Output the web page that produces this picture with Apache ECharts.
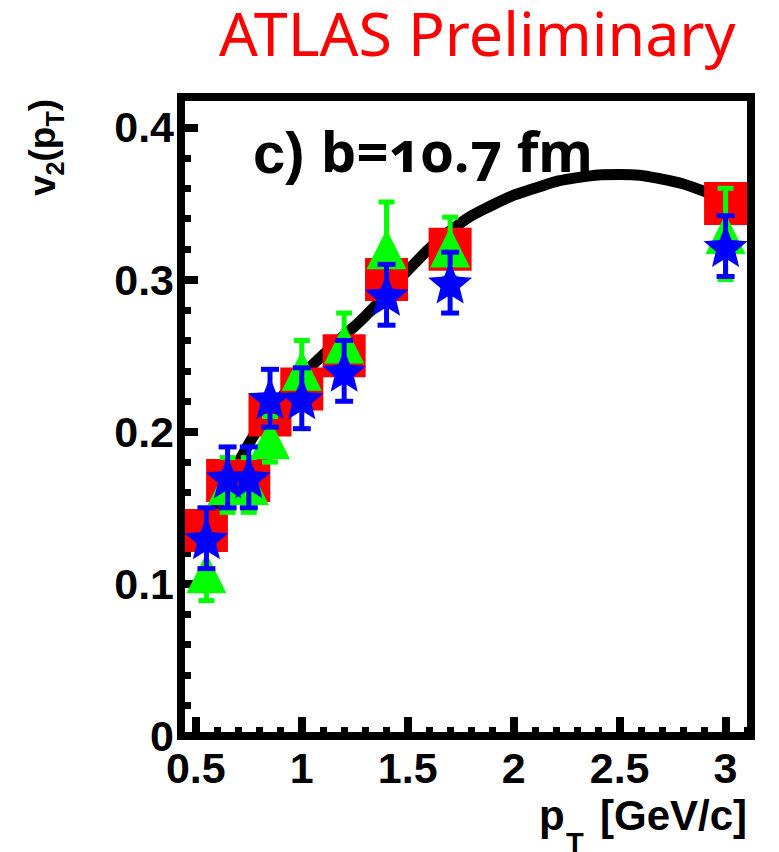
<!DOCTYPE html>
<html>
<head>
<meta charset="utf-8">
<script src="https://cdn.jsdelivr.net/npm/echarts@6.0.0/dist/echarts.min.js"></script>
<style>
html,body{margin:0;padding:0;background:#fff;}
#chart{width:779px;height:852px;}
text[style*="Noto Sans"], text[font-family*="Noto Sans"]{font-variant-numeric: oldstyle-nums !important; font-feature-settings: "onum" 1 !important;}
</style>
</head>
<body>
<div id="chart"></div>
<script>
// ---- data ----
const ptX   = [0.55, 0.65, 0.75, 0.85, 1.0, 1.2, 1.4, 1.7, 3.0];
const redV  = [0.135, 0.168, 0.168, 0.211, 0.228, 0.250, 0.300, 0.320, 0.350];
const greenV= [0.107, 0.165, 0.165, 0.195, 0.240, 0.258, 0.320, 0.321, 0.330];
const greenE= [0.018, 0.018, 0.018, 0.015, 0.020, 0.020, 0.031, 0.020, 0.030];
const blueV = [0.130, 0.170, 0.170, 0.222, 0.222, 0.240, 0.290, 0.298, 0.322];
const blueE = [0.020, 0.020, 0.020, 0.019, 0.020, 0.020, 0.020, 0.020, 0.020];
const curveX= [0.5, 0.6, 0.75, 0.9, 1.0, 1.15, 1.3, 1.5, 1.7, 1.9, 2.1, 2.3, 2.5, 2.7, 2.9, 3.0];
const curveY= [0.125, 0.151, 0.192, 0.222, 0.237, 0.257, 0.276, 0.306, 0.332, 0.349, 0.360, 0.367, 0.369, 0.366, 0.358, 0.351];
const xMajor= [0.5, 1, 1.5, 2, 2.5, 3];
const xMinor= [0.6,0.7,0.8,0.9,1.1,1.2,1.3,1.4,1.6,1.7,1.8,1.9,2.1,2.2,2.3,2.4,2.6,2.7,2.8,2.9,3.1];
const yMajor= [0, 0.1, 0.2, 0.3, 0.4];
const yMinor= [0.02,0.04,0.06,0.08,0.12,0.14,0.16,0.18,0.22,0.24,0.26,0.28,0.32,0.34,0.36,0.38];

// star marker shape
function starPath(){
  const pts=[];
  for(let i=0;i<10;i++){
    const a=(-90+i*36)*Math.PI/180, r=(i%2)?0.44:1;
    pts.push((50+50*r*Math.cos(a)).toFixed(2)+' '+(50+50*r*Math.sin(a)).toFixed(2));
  }
  return 'path://M'+pts.join(' L')+' Z';
}

function errItem(color, capW, lw){
  return function(params, api){
    const x=api.value(0), y=api.value(1), e=api.value(2);
    const t=api.coord([x,y+e]), b=api.coord([x,y-e]);
    const st={stroke:color, lineWidth:lw};
    return {type:'group', children:[
      {type:'line', shape:{x1:t[0],y1:t[1],x2:b[0],y2:b[1]}, style:st},
      {type:'line', shape:{x1:t[0]-capW/2,y1:t[1],x2:t[0]+capW/2,y2:t[1]}, style:st},
      {type:'line', shape:{x1:b[0]-capW/2,y1:b[1],x2:b[0]+capW/2,y2:b[1]}, style:st}
    ]};
  };
}

const mc=document.createElement('canvas').getContext('2d');
function tw(t,f){mc.font=f;return mc.measureText(t).width;}

const LB='"Liberation Sans", Arial, sans-serif';
const axisFont={fontFamily:LB, fontWeight:'bold', fontSize:43, color:'#000'};

// y title pieces
const yMainF='bold 37px '+LB, ySubF='bold 25px '+LB;
const yPieces=[['v',yMainF,0],['2',ySubF,9],['(',yMainF,0],['p',yMainF,0],['T',ySubF,9],[')',yMainF,0]];
let cx=0; const yChildren=[];
yPieces.forEach(p=>{
  const fs=parseFloat(p[1].match(/(\d+)px/)[1]);
  yChildren.push({type:'text', x:cx, y:p[2]-0.347*fs, style:{text:p[0], font:p[1], fill:'#000', verticalAlign:'middle', align:'left'}});
  cx+=tw(p[0],p[1]);
});

const chart=echarts.init(document.getElementById('chart'),null,{renderer:'svg'});
chart.setOption({
  animation:false,
  backgroundColor:'#fff',
  grid:{left:181, top:97, right:28, bottom:116, show:true, borderColor:'#000', borderWidth:8, outerBoundsMode:'none'},
  xAxis:[
    {type:'value', min:0.43, max:3.12, position:'bottom',
     axisLine:{show:true, lineStyle:{color:'#000', width:8}},
     axisTick:{show:true, inside:true, length:19, customValues:xMajor, lineStyle:{color:'#000', width:8}},
     axisLabel:Object.assign({customValues:xMajor, margin:10}, axisFont),
     splitLine:{show:false}},
    {type:'value', min:0.43, max:3.12, position:'bottom',
     axisLine:{show:false},
     axisTick:{show:true, inside:true, length:9, customValues:xMinor, lineStyle:{color:'#000', width:7}},
     axisLabel:{show:false}, splitLine:{show:false}}
  ],
  yAxis:[
    {type:'value', min:0, max:0.42, position:'left',
     axisLine:{show:true, lineStyle:{color:'#000', width:8}},
     axisTick:{show:true, inside:true, length:17, customValues:yMajor, lineStyle:{color:'#000', width:8}},
     axisLabel:Object.assign({customValues:yMajor, margin:7}, axisFont),
     splitLine:{show:false}},
    {type:'value', min:0, max:0.42, position:'left',
     axisLine:{show:false},
     axisTick:{show:true, inside:true, length:10, customValues:yMinor, lineStyle:{color:'#000', width:7}},
     axisLabel:{show:false}, splitLine:{show:false}}
  ],
  series:[
    {type:'line', z:1, smooth:true, symbol:'none', data:curveX.map((x,i)=>[x,curveY[i]]),
     lineStyle:{color:'#000', width:11}},
    {type:'scatter', z:2, symbol:'rect', symbolSize:[43,43], itemStyle:{color:'#ff0000', opacity:1},
     data:ptX.map((x,i)=>[x,redV[i]])},
    {type:'custom', z:3, renderItem:errItem('#00ff00',16,5), clip:false,
     data:ptX.map((x,i)=>[x,greenV[i],greenE[i]])},
    {type:'scatter', z:4, symbol:'triangle', symbolSize:[40,40], itemStyle:{color:'#00ff00', opacity:1},
     data:ptX.map((x,i)=>[x,greenV[i]])},
    {type:'custom', z:5, renderItem:errItem('#0000ff',18,5), clip:false,
     data:ptX.map((x,i)=>[x,blueV[i],blueE[i]])},
    {type:'scatter', z:6, symbol:starPath(), symbolSize:[44,42], itemStyle:{color:'#0000ff', opacity:1},
     data:ptX.map((x,i)=>[x,blueV[i]])}
  ],
  graphic:[
    {type:'text', x:219, y:32, z:10, style:{text:'ATLAS Preliminary', font:'61px "Noto Sans"', fill:'#ff0000', verticalAlign:'middle'}},
    {type:'text', x:253, y:152, z:10, style:{text:'c)', font:'bold 58px '+LB, fill:'#000', verticalAlign:'middle'}},
    {type:'text', x:321, y:150, z:10, style:{text:'b=10.7 fm', font:'bold 56px "Noto Sans"', fill:'#000', verticalAlign:'middle'}},
    {type:'group', x:55, y:196, rotation:Math.PI/2, children:yChildren},
    {type:'text', x:539, y:830-0.347*42, style:{text:'p', font:'bold 42px '+LB, fill:'#000', verticalAlign:'middle'}},
    {type:'text', x:566, y:853-0.347*29, style:{text:'T', font:'bold 29px '+LB, fill:'#000', verticalAlign:'middle'}},
    {type:'text', x:600, y:830-0.347*42, style:{text:'[GeV/c]', font:'bold 42px '+LB, fill:'#000', verticalAlign:'middle'}}
  ]
});
</script>
</body>
</html>
